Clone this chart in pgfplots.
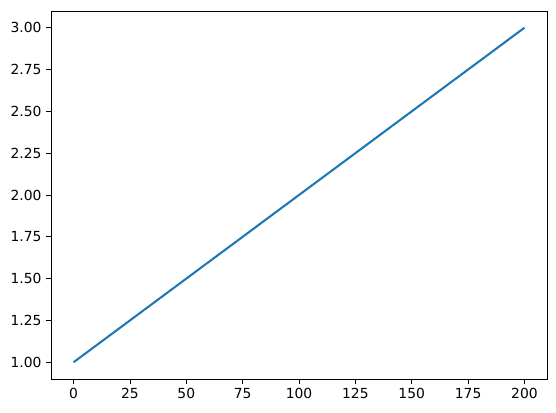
\documentclass[border=0pt]{standalone}
\usepackage{pgfplots}
\pgfplotsset{compat=1.18}
\usepackage{fontspec}
\setmainfont{DejaVu Sans}
\definecolor{tabblue}{HTML}{1F77B4}
\begin{document}
\begin{tikzpicture}
% page frame: 556x413 px at 0.75pt per px, axis box at its origin
\useasboundingbox (-38.25pt,-25.5pt) rectangle (378.75pt,284.25pt);
\begin{axis}[
    scale only axis,
    width=372pt, height=276pt,
    xmin=-10, xmax=210,
    ymin=0.9, ymax=3.1,
    xtick={0,25,...,200},
    ytick={1,1.25,...,3},
    yticklabel style={/pgf/number format/.cd, fixed, fixed zerofill, precision=2},
    /pgf/number format/assume math mode=true,
    tick label style={font=\fontsize{10.4}{12}\selectfont},
    tick align=outside,
    major tick length=3.65pt,
    xtick pos=bottom, ytick pos=left,
    axis line style={line width=0.6pt},
    every tick/.style={black, line width=0.6pt},
  ]
  \addplot[tabblue, line width=1.56pt, mark=none] coordinates {
    (0,1) (200,3)
  };
\end{axis}
\end{tikzpicture}
\end{document}
